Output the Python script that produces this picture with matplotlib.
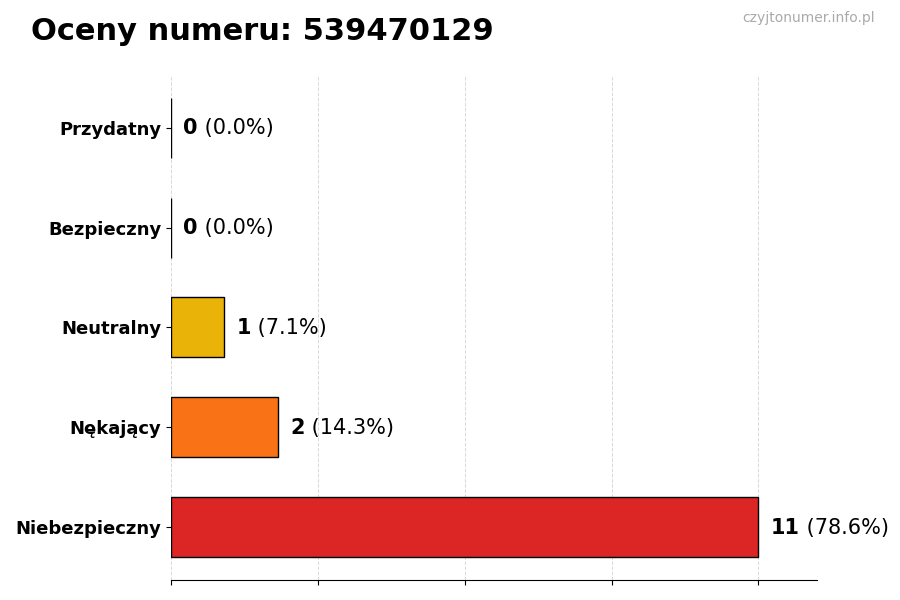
import matplotlib
matplotlib.use("Agg")
import matplotlib.pyplot as plt
import numpy as np

categories = ["Niebezpieczny", "Nękający", "Neutralny", "Bezpieczny", "Przydatny"]
counts = [11, 2, 1, 0, 0]
colors = ["#DC2626", "#F97316", "#EAB308", "#22C55E", "#3B82F6"]
title = "Oceny numeru: 539470129"
watermark = "czyjtonumer.info.pl"

total = sum(counts)
fig = plt.figure(figsize=(9, 6), dpi=100)
ax = fig.add_axes([0.19, 0.0333, 0.718, 0.842])

y = np.arange(len(categories))
ax.barh(y, counts, height=0.6, color=colors, edgecolor="black", linewidth=1, zorder=3)

ax.set_yticks(y)
ax.set_yticklabels(categories, fontsize=13, fontweight="bold")
mx = max(counts)
ax.set_xticks(np.linspace(0, mx, 5))
ax.set_xticklabels([])
ax.set_xlim(0, mx * 1.1)
ax.grid(axis="x", linestyle="--", color="#d9d9d9", linewidth=0.7, zorder=0)
for s in ["top", "right", "left"]:
    ax.spines[s].set_visible(False)

for yi, c in zip(y, counts):
    pct = c / total * 100
    t1 = ax.annotate(f"{c}", xy=(c, yi), xytext=(9, -0.5), textcoords="offset points",
                     fontsize=15, fontweight="bold", va="center", ha="left")
    ax.annotate(f" ({pct:.1f}%)", xy=(1, 0), xycoords=t1, fontsize=15,
                va="bottom", ha="left")

fig.text(0.034, 0.947, title, fontsize=22, fontweight="bold", va="center", ha="left")
fig.text(0.972, 0.970, watermark, fontsize=10, color="#aaaaaa", va="center", ha="right")

fig.savefig("out.png", dpi=100)
